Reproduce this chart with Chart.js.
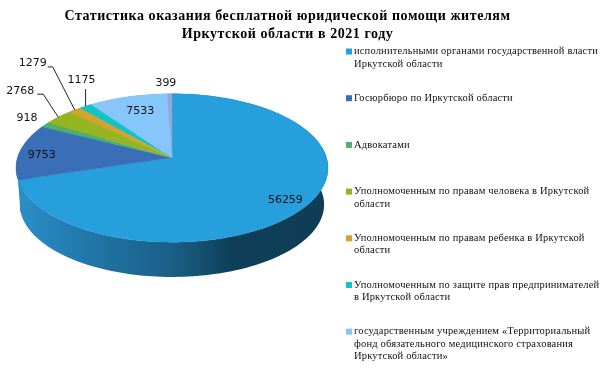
<!DOCTYPE html>
<html>
<head>
<meta charset="utf-8">
<style>
  html, body { margin: 0; padding: 0; background: #fff; }
  canvas { display: block; }
</style>
<script src="https://cdn.jsdelivr.net/npm/chart.js@4"></script>
</head>
<body>
<canvas id="pie3d" width="605" height="379"></canvas>
<script>
var titleLines = ['Статистика оказания бесплатной юридической помощи жителям', 'Иркутской области в 2021 году'];
var values = [56259, 9753, 918, 2768, 1279, 1175, 7533, 399];
var legendLines = [
  ['исполнительными органами государственной власти', 'Иркутской области'],
  ['Госюрбюро по Иркутской области'],
  ['Адвокатами'],
  ['Уполномоченным по правам человека в Иркутской', 'области'],
  ['Уполномоченным по правам ребенка в Иркутской', 'области'],
  ['Уполномоченным по защите прав предпринимателей', 'в Иркутской области'],
  ['государственным учреждением «Территориальный', 'фонд обязательного медицинского страхования', 'Иркутской области»']
];
var colors = ['#279fdd', '#3a6fb8', '#4caf6e', '#94b421', '#d4a32f', '#0fc3c6', '#86c6fa', '#8fa8d8'];
var wallColors = ['#279fdd', '#3f6596', '#3d8f5a', '#7a941b', '#ae8626', '#0ca0a3', '#6ea3ce', '#7589b1'];

// label offset from the rim point at the middle of each slice
var labelOffsets = [[-22, -5], [22, 3], [-18, -7], [-38, -26], [-42, -47], [-4, -26], [12, 14], [-4, -11]];
// leader lines, also relative to the rim point
var leaders = [null, null, null, [[-15, -23], [-21, -23]], [[-22, -43], [-27, -43]], [[0, -17]], null, null];

// perspective of the disc, worked out from the picture
var cx = 172, cy = 157.7, ax = 154.5, by = 72.8, persp = 0.138;
var wallScale = 0.975, wallTop = 194.6;
// the big slice wall runs on to the outline of the bottom disc
var wallOverrun = 0.16;

function project(angle, bottom) {
  var u = Math.cos(angle), v = Math.sin(angle), w = 1 - persp * v;
  if (bottom) return { x: cx + wallScale * ax * u / w, y: wallTop + wallScale * by * v / w };
  return { x: cx + ax * u / w, y: cy + by * v / w };
}

var pie3dPlugin = {
  id: 'pie3d',
  beforeDraw: function(chart) {
    chart.ctx.letterSpacing = '0.55px';
  },
  beforeDatasetsDraw: function(chart) {
    var ctx = chart.ctx;
    ctx.letterSpacing = '0px';
    var arcs = chart.getDatasetMeta(0).data;

    var wall = ctx.createLinearGradient(18, 0, 326, 0);
    wall.addColorStop(0, '#2a90c9');
    wall.addColorStop(0.22, '#2277aa');
    wall.addColorStop(0.5, '#1a5f86');
    wall.addColorStop(0.7, '#0f3f58');
    wall.addColorStop(1, '#0f3d55');

    // side walls first, the top face covers the hidden part
    for (var i = arcs.length - 1; i >= 0; i--) {
      var arc = arcs[i];
      var steps = Math.max(2, Math.ceil((arc.endAngle - arc.startAngle) * 40));
      var bottomEnd = arc.endAngle + (i == 0 ? wallOverrun : 0);
      ctx.beginPath();
      for (var s = 0; s <= steps; s++) {
        var p = project(arc.startAngle + (arc.endAngle - arc.startAngle) * s / steps, false);
        if (s == 0) ctx.moveTo(p.x, p.y); else ctx.lineTo(p.x, p.y);
      }
      for (var t = steps; t >= 0; t--) {
        var q = project(arc.startAngle + (bottomEnd - arc.startAngle) * t / steps, true);
        ctx.lineTo(q.x, q.y);
      }
      ctx.closePath();
      ctx.fillStyle = i == 0 ? wall : wallColors[i];
      ctx.fill();
    }

    arcs.forEach(function(arc, i) {
      var steps = Math.max(2, Math.ceil((arc.endAngle - arc.startAngle) * 40));
      ctx.beginPath();
      ctx.moveTo(cx, cy);
      for (var s = 0; s <= steps; s++) {
        var p = project(arc.startAngle + (arc.endAngle - arc.startAngle) * s / steps, false);
        ctx.lineTo(p.x, p.y);
      }
      ctx.closePath();
      ctx.fillStyle = colors[i];
      ctx.strokeStyle = colors[i];
      ctx.lineWidth = 0.4;
      ctx.fill();
      ctx.stroke();
    });

    // data labels and leaders
    ctx.font = '11px "DejaVu Sans"';
    ctx.textAlign = 'center';
    ctx.textBaseline = 'middle';
    arcs.forEach(function(arc, i) {
      var rim = project((arc.startAngle + arc.endAngle) / 2, false);
      if (leaders[i]) {
        ctx.beginPath();
        ctx.moveTo(rim.x, rim.y);
        leaders[i].forEach(function(d) { ctx.lineTo(rim.x + d[0], rim.y + d[1]); });
        ctx.strokeStyle = '#222';
        ctx.lineWidth = 1;
        ctx.stroke();
      }
      ctx.fillStyle = '#111';
      ctx.fillText(String(values[i]), rim.x + labelOffsets[i][0], rim.y + labelOffsets[i][1]);
    });

    // legend, rows are evenly spaced whatever their line count
    ctx.font = '10.5px "Liberation Serif"';
    ctx.letterSpacing = '0.17px';
    ctx.textAlign = 'left';
    legendLines.forEach(function(lines, i) {
      var rowY = 51.5 + i * 46.7;
      ctx.fillStyle = colors[i];
      ctx.fillRect(346, rowY - 3, 6, 6);
      ctx.fillStyle = '#111';
      lines.forEach(function(line, n) {
        ctx.fillText(line, 354, rowY + n * 12.4);
      });
    });
    ctx.letterSpacing = '0px';
    return false;
  }
};

new Chart(document.getElementById('pie3d'), {
  type: 'pie',
  data: {
    labels: legendLines.map(function(l) { return l.join(' '); }),
    datasets: [{ data: values, backgroundColor: colors, borderWidth: 0 }]
  },
  options: {
    responsive: false,
    animation: false,
    layout: { padding: { right: 30 } },
    plugins: {
      legend: { display: false },
      tooltip: { enabled: false },
      title: {
        display: true,
        text: titleLines,
        color: '#000',
        font: { family: '"Liberation Serif"', size: 14, weight: 'bold', lineHeight: 1.3 },
        padding: { top: 7, bottom: 0 }
      }
    }
  },
  plugins: [pie3dPlugin]
});
</script>
</body>
</html>
